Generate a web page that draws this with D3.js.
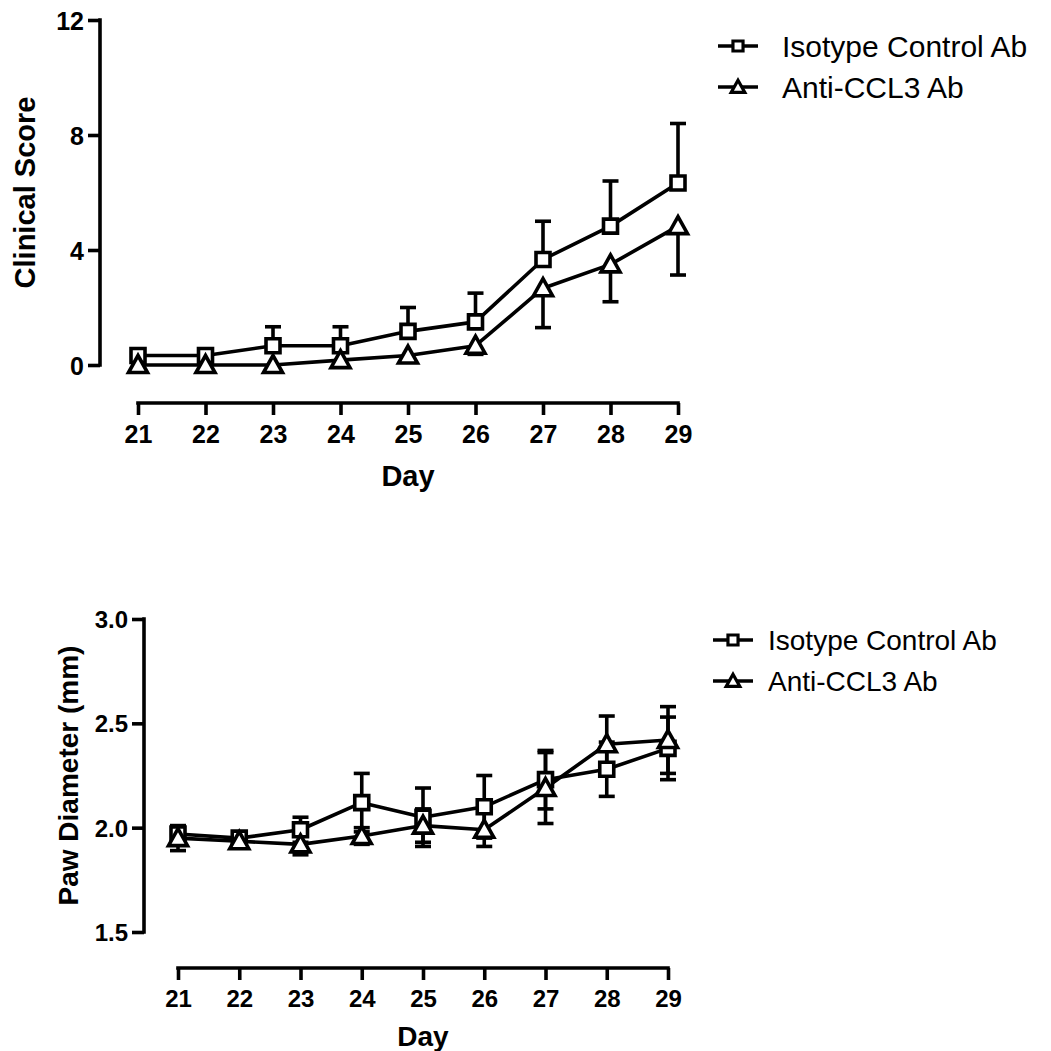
<!DOCTYPE html>
<html>
<head>
<meta charset="utf-8">
<script src="https://cdn.jsdelivr.net/npm/d3@7"></script>
<style>
  html, body { margin: 0; padding: 0; background: #fff; }
  svg { display: block; font-family: Arial, "Liberation Sans", Helvetica, sans-serif; }
</style>
</head>
<body>
<svg id="fig" width="1051" height="1051"></svg>
<script>
// Study days
const days = [21, 22, 23, 24, 25, 26, 27, 28, 29];
const seriesNames = ["Isotype Control Ab", "Anti-CCL3 Ab"];

// Clinical score (mean and SEM)
const clinIso     = [0.33, 0.33, 0.67, 0.67, 1.17, 1.50, 3.67, 4.83, 6.33];
const clinIsoSem  = [0.00, 0.00, 0.66, 0.66, 0.83, 1.00, 1.33, 1.57, 2.07];
const clinAnti    = [0.00, 0.00, 0.00, 0.17, 0.33, 0.67, 2.67, 3.50, 4.83];
const clinAntiSem = [0.00, 0.00, 0.00, 0.17, 0.21, 0.30, 1.37, 1.30, 1.70];
const clinTicks   = [0, 4, 8, 12];

// Paw diameter in mm (mean and SEM)
const pawIso      = [1.97, 1.95, 1.99, 2.12, 2.05, 2.10, 2.23, 2.28, 2.38];
const pawIsoSem   = [0.03, 0.02, 0.06, 0.14, 0.14, 0.15, 0.14, 0.13, 0.15];
const pawAnti     = [1.95, 1.935, 1.92, 1.96, 2.01, 1.99, 2.19, 2.40, 2.42];
const pawAntiSem  = [0.06, 0.02, 0.05, 0.04, 0.08, 0.08, 0.17, 0.135, 0.16];
const pawTicks    = [1.5, 2.0, 2.5, 3.0];

const svg = d3.select("#fig");
const INK = "#000";
const SW = 3.6;

function markerPath(kind) {
  if (kind === "square") return "M-7,-7H7V7H-7Z";
  return "M0,-9.5L9.5,7.5H-9.5Z";
}

function drawPanel(cfg) {
  const g = svg.append("g");
  const x = d3.scaleLinear().domain([days[0], days[days.length - 1]]).range([cfg.x0, cfg.x1]);
  const y = d3.scaleLinear().domain(cfg.yDomain).range([cfg.yBottom, cfg.yTop]);

  // y axis
  const yAxis = g.append("g")
    .attr("transform", `translate(${cfg.yAxisX},0)`)
    .call(d3.axisLeft(y).tickValues(cfg.yTicks).tickFormat(cfg.yFormat).tickSize(12).tickSizeOuter(0));
  // x axis, offset below the plot
  const xAxis = g.append("g")
    .attr("transform", `translate(0,${cfg.xAxisY})`)
    .call(d3.axisBottom(x).tickValues(days).tickFormat(d3.format("d")).tickSize(12).tickSizeOuter(0));

  [yAxis, xAxis].forEach(a => {
    a.select(".domain").attr("stroke", INK).attr("stroke-width", SW).attr("stroke-linecap", "square");
    a.selectAll(".tick line").attr("stroke", INK).attr("stroke-width", SW);
    a.selectAll(".tick text").attr("fill", INK).attr("font-weight", "bold")
      .attr("font-size", cfg.tickFont).attr("font-family", "Arial, 'Liberation Sans', sans-serif");
  });
  yAxis.select(".domain").attr("d", `M0,${cfg.yTop}V${cfg.yBottom}`);
  xAxis.select(".domain").attr("d", `M${cfg.x0},0H${cfg.x1}`);
  yAxis.selectAll(".tick text").attr("x", -16).attr("dy", "0.36em");
  xAxis.selectAll(".tick text").attr("y", 22).attr("dy", "0.71em");

  // axis titles
  g.append("text")
    .attr("transform", `translate(${cfg.yTitleX},${(cfg.yTop + cfg.yBottom) / 2}) rotate(-90)`)
    .attr("text-anchor", "middle").attr("font-weight", "bold").attr("font-size", cfg.titleFont)
    .attr("fill", INK).text(cfg.yTitle);
  g.append("text")
    .attr("x", (cfg.x0 + cfg.x1) / 2).attr("y", cfg.xTitleY)
    .attr("text-anchor", "middle").attr("font-weight", "bold").attr("font-size", cfg.titleFont)
    .attr("fill", INK).text("Day");

  const line = d3.line().x((d, i) => x(days[i])).y(d => y(d));

  // connecting lines
  cfg.series.forEach(s => {
    g.append("path").datum(s.mean).attr("d", line)
      .attr("fill", "none").attr("stroke", INK).attr("stroke-width", SW).attr("stroke-linejoin", "round");
  });

  // error bars (SEM)
  const cap = 8;
  cfg.series.forEach(s => {
    s.mean.forEach((m, i) => {
      const e = s.sem[i];
      if (!e) return;
      const cx = x(days[i]);
      const ends = [];
      if (s.dir !== "down") ends.push(m + e);
      if (s.dir !== "up") ends.push(m - e);
      const lo = s.dir === "up" ? m : m - e;
      const hi = s.dir === "down" ? m : m + e;
      g.append("line").attr("x1", cx).attr("x2", cx).attr("y1", y(lo)).attr("y2", y(hi))
        .attr("stroke", INK).attr("stroke-width", SW);
      ends.forEach(v => {
        g.append("line").attr("x1", cx - cap).attr("x2", cx + cap).attr("y1", y(v)).attr("y2", y(v))
          .attr("stroke", INK).attr("stroke-width", SW);
      });
    });
  });

  // markers
  cfg.series.forEach(s => {
    g.selectAll(null).data(s.mean).enter().append("path")
      .attr("d", markerPath(s.marker))
      .attr("transform", (d, i) => `translate(${x(days[i])},${y(d)})`)
      .attr("fill", "#fff").attr("stroke", INK).attr("stroke-width", SW).attr("stroke-linejoin", "miter");
  });

  // legend
  cfg.series.forEach((s, k) => {
    const ly = cfg.legendY + k * cfg.legendGap;
    const lg = g.append("g").attr("transform", `translate(${cfg.legendX},${ly})`);
    lg.append("line").attr("x1", -20).attr("x2", 20).attr("y1", 0).attr("y2", 0)
      .attr("stroke", INK).attr("stroke-width", SW);
    lg.append("path").attr("d", markerPath(s.marker))
      .attr("transform", "scale(0.72)")
      .attr("fill", "#fff").attr("stroke", INK).attr("stroke-width", 4.4);
    lg.append("text").attr("x", cfg.legendTextDx).attr("y", 0).attr("dy", "0.36em")
      .attr("font-size", cfg.legendFont).attr("fill", INK).text(seriesNames[k]);
  });
}

drawPanel({
  x0: 138, x1: 678, xAxisY: 403,
  yAxisX: 100, yTop: 20, yBottom: 365, yDomain: [0, 12], yTicks: clinTicks, yFormat: d3.format("d"),
  tickFont: 25, titleFont: 29,
  yTitle: "Clinical Score", yTitleX: 35, xTitleY: 486,
  legendX: 738, legendY: 46, legendGap: 41, legendTextDx: 44, legendFont: 30,
  series: [
    { mean: clinIso, sem: clinIsoSem, marker: "square", dir: "up" },
    { mean: clinAnti, sem: clinAntiSem, marker: "triangle", dir: "down" }
  ]
});

drawPanel({
  x0: 178, x1: 668, xAxisY: 968,
  yAxisX: 144, yTop: 619, yBottom: 932, yDomain: [1.5, 3.0], yTicks: pawTicks, yFormat: d3.format(".1f"),
  tickFont: 24, titleFont: 28,
  yTitle: "Paw Diameter (mm)", yTitleX: 78, xTitleY: 1046,
  legendX: 733, legendY: 640, legendGap: 41, legendTextDx: 35, legendFont: 28,
  series: [
    { mean: pawIso, sem: pawIsoSem, marker: "square", dir: "both" },
    { mean: pawAnti, sem: pawAntiSem, marker: "triangle", dir: "both" }
  ]
});
</script>
</body>
</html>
